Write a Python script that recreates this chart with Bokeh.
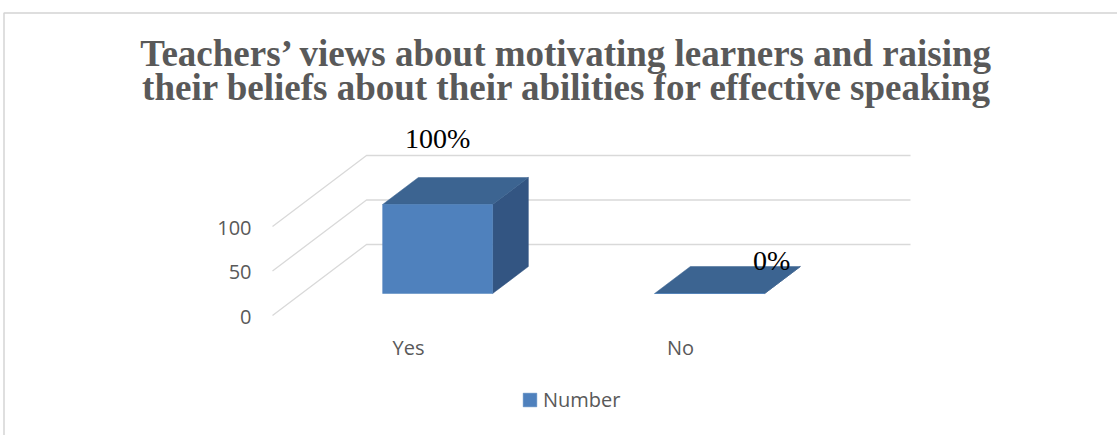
from bokeh.plotting import figure
from bokeh.models import Range1d, Legend, LegendItem
from bokeh.core.properties import value
from bokeh.embed import file_html
from bokeh.resources import INLINE

# ---------------- data ----------------
title_lines = [
    "Teachers\u2019 views about motivating learners and raising",
    "their beliefs about their abilities for effective speaking",
]
categories = ["Yes", "No"]
numbers = [100, 0]
pct_labels = ["100%", "0%"]
y_ticks = [0, 50, 100]
series_name = "Number"

# ---------------- geometry / style ----------------
W, H = 1117, 435
PX_PER_CAT = 272.0      # pixels per category step
PX_PER_VAL = 0.89       # pixels per value unit
DEPTH_X = 94 / PX_PER_CAT       # full depth of the 3-D box in category units
DEPTH_Y = 71 / PX_PER_VAL       # full depth of the 3-D box in value units
F_FRONT, F_BACK = 0.31, 0.69    # bar front/back as fraction of depth
BAR_W = 110 / PX_PER_CAT
FRONT_X0 = -408 / PX_PER_CAT + 1
FLOOR_Y0 = 315 / PX_PER_VAL

C_FRONT, C_TOP, C_SIDE = "#4F81BD", "#3C6491", "#335582"
GRID_C = "#D9D9D9"
TXT_C = "#595959"
SANS = "Open Sans"

p = figure(width=W, height=H, output_backend="svg", toolbar_location=None,
           x_range=Range1d(FRONT_X0, FRONT_X0 + W / PX_PER_CAT),
           y_range=Range1d(FLOOR_Y0 - H / PX_PER_VAL, FLOOR_Y0),
           x_axis_location=None, y_axis_location=None, min_border=0)
p.grid.visible = False
p.outline_line_color = None
p.background_fill_color = "white"
p.extra_x_ranges = {"px": Range1d(0, W)}
p.extra_y_ranges = {"px": Range1d(H, 0)}

# chart-area border (top and left visible)
p.line(x=[3.5, 3.5, W + 5], y=[H + 5, 12.5, 12.5], line_color="#D4D4D4",
       line_width=1.5, x_range_name="px", y_range_name="px")

# back/side wall gridlines
cat_pos = list(range(1, len(categories) + 1))
x_left = cat_pos[0] - 0.5
x_right = cat_pos[-1] + 0.5
gx, gy = [], []
for t in y_ticks:
    gx.append([x_left, x_left + DEPTH_X, x_right + DEPTH_X])
    gy.append([t, t + DEPTH_Y, t + DEPTH_Y])
p.multi_line(xs=gx, ys=gy, line_color=GRID_C, line_width=1.3)

# tick labels
p.text(x=[x_left] * len(y_ticks), y=y_ticks, text=[str(t) for t in y_ticks],
       text_font=value(SANS), text_font_size="20px", text_color=TXT_C,
       text_align="right", text_baseline="middle", x_offset=-21, y_offset=1)

# 3-D bars
fx, fy, tx, ty, sx, sy = [], [], [], [], [], []
dd_x = (F_BACK - F_FRONT) * DEPTH_X
dd_y = (F_BACK - F_FRONT) * DEPTH_Y
lab_x, lab_y = [], []
for c, v in zip(cat_pos, numbers):
    cx = c + F_FRONT * DEPTH_X
    y0 = F_FRONT * DEPTH_Y
    l, r = cx - BAR_W / 2, cx + BAR_W / 2
    fx.append([l, r, r, l]); fy.append([y0, y0, y0 + v, y0 + v])
    tx.append([l, r, r + dd_x, l + dd_x]); ty.append([y0 + v, y0 + v, y0 + v + dd_y, y0 + v + dd_y])
    sx.append([r, r + dd_x, r + dd_x, r]); sy.append([y0, y0 + dd_y, y0 + v + dd_y, y0 + v])
    lab_x.append(cx); lab_y.append(y0 + v)

p.patches(xs=sx, ys=sy, fill_color=C_SIDE, line_color=C_SIDE, line_width=0.5)
p.patches(xs=tx, ys=ty, fill_color=C_TOP, line_color=C_TOP, line_width=0.5)
front_r = p.patches(xs=fx, ys=fy, fill_color=C_FRONT, line_color=C_FRONT, line_width=0.5)

# data labels
p.text(x=lab_x, y=lab_y, text=pct_labels, text_font=value("Liberation Serif"),
       text_font_size="28px", text_color="black", text_align="center",
       text_baseline="middle", x_offset=[0, 62], y_offset=[-66, -33])

# category labels
p.text(x=cat_pos, y=[0] * len(cat_pos), text=categories, text_font=value(SANS),
       text_font_size="20px", text_color=TXT_C, text_align="center",
       text_baseline="middle", y_offset=32)

# title
p.text(x=[566.5, 566.5], y=[53, 87], text=title_lines, text_font=value("Liberation Serif"),
       text_font_style="bold", text_font_size="37px", text_color=TXT_C,
       text_align="center", text_baseline="middle", x_range_name="px", y_range_name="px")

legend = Legend(items=[LegendItem(label=series_name, renderers=[front_r])],
                location=(521, 22), orientation="horizontal", glyph_width=17, glyph_height=17,
                label_text_font=SANS, label_text_font_size="20px", label_text_color=TXT_C,
                border_line_color=None, background_fill_alpha=0, padding=0, margin=0,
                spacing=0, label_standoff=5)
p.add_layout(legend)

open("out.html", "w").write(file_html(p, INLINE))
